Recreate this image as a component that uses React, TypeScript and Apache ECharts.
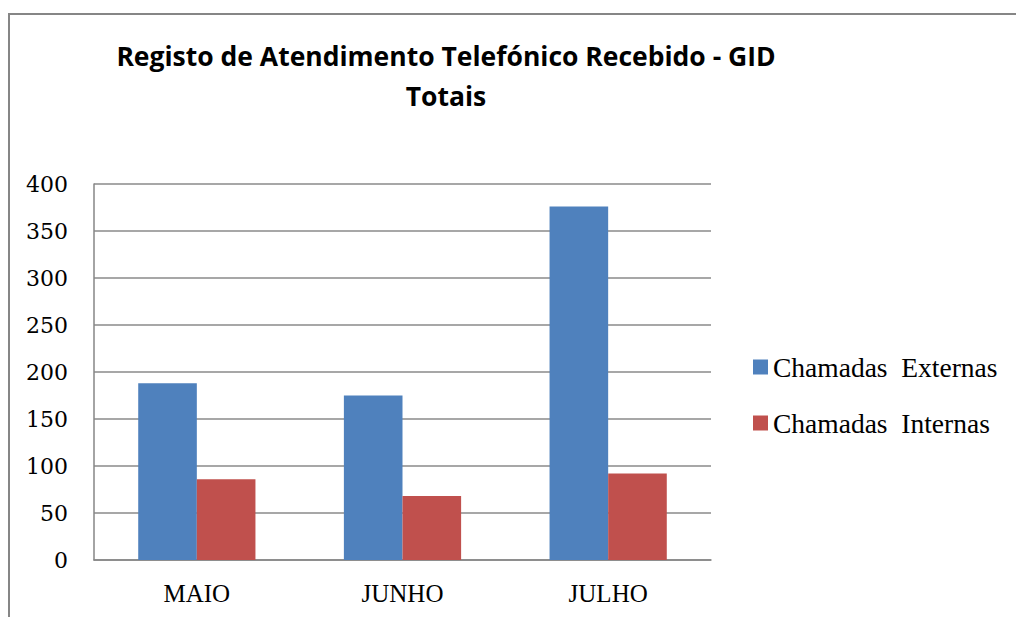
import React, { useEffect, useRef } from "react";
import * as echarts from "echarts";

const categories = ["MAIO", "JUNHO", "JULHO"];
const externas = [188, 175, 376];
const internas = [86, 68, 92];
const seriesNames = ["Chamadas  Externas", "Chamadas  Internas"];
const titleLines = ["Registo de Atendimento Telefónico Recebido - GID", "Totais"];

export default function App() {
  const ref = useRef<HTMLDivElement>(null);
  useEffect(() => {
    const chart = echarts.init(ref.current!, undefined, { renderer: "svg" });
    const serif = "'Liberation Serif', 'DejaVu Serif', serif";
    const serifWide = "'DejaVu Serif', 'Liberation Serif', serif";
    const sans = "'Open Sans', 'Liberation Sans', sans-serif";
    chart.setOption({
      animation: false,
      backgroundColor: "#ffffff",
      title: {
        text: titleLines.join("\n"),
        left: 441,
        textAlign: "center",
        top: 31,
        textStyle: {
          fontFamily: sans,
          fontWeight: "bold",
          fontSize: 26.5,
          lineHeight: 40,
          color: "#000",
        },
      },
      graphic: [
        {
          type: "rect",
          shape: { x: 9, y: 14, width: 1200, height: 800 },
          style: { fill: "none", stroke: "#868686", lineWidth: 2 },
          silent: true,
        },
      ],
      legend: {
        orient: "vertical",
        left: 753,
        top: 352,
        padding: 0,
        icon: "rect",
        itemWidth: 15,
        itemHeight: 15,
        itemGap: 26,
        data: seriesNames,
        textStyle: {
          fontFamily: serif,
          fontSize: 27.5,
          lineHeight: 30,
          color: "#000",
        },
      },
      grid: { left: 94, top: 184, right: 305, bottom: 57, containLabel: false },
      xAxis: {
        type: "category",
        data: categories,
        axisLine: { lineStyle: { color: "#868686", width: 1.5 } },
        axisTick: { show: false },
        axisLabel: {
          fontFamily: serif,
          fontSize: 25,
          color: "#000",
          margin: 21,
        },
      },
      yAxis: {
        type: "value",
        min: 0,
        max: 400,
        interval: 50,
        axisLine: { show: true, lineStyle: { color: "#868686", width: 1.5 } },
        axisTick: { show: false },
        splitLine: { lineStyle: { color: "#8a8a8a", width: 1.5 } },
        axisLabel: {
          fontFamily: serifWide,
          fontSize: 22,
          color: "#000",
          margin: 26,
        },
      },
      series: [
        {
          name: seriesNames[0],
          type: "bar",
          data: externas,
          barGap: "0%",
          barCategoryGap: "43%",
          itemStyle: { color: "#4F81BD" },
        },
        {
          name: seriesNames[1],
          type: "bar",
          data: internas,
          itemStyle: { color: "#C0504D" },
        },
      ],
    });
    return () => chart.dispose();
  }, []);
  return (
    <div
      ref={ref}
      style={{ position: "fixed", left: 0, top: 0, width: 1016, height: 617 }}
    />
  );
}
